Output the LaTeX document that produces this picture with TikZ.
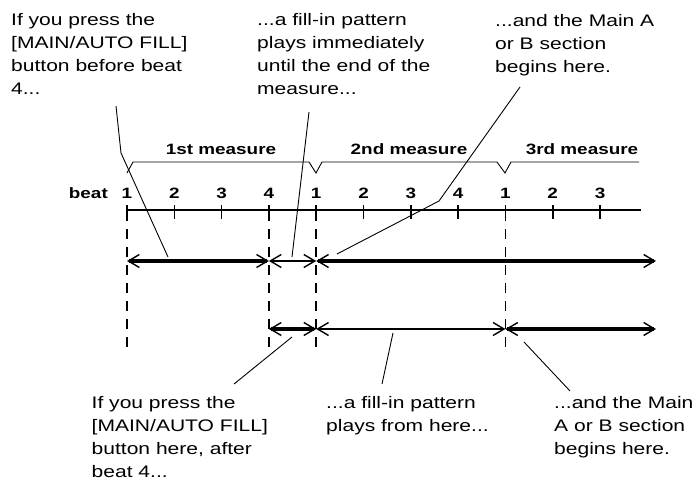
\documentclass[tikz,border=0pt]{standalone}
\usepackage{fontspec}
\setmainfont{Liberation Sans}[FakeStretch=1.26]
\usetikzlibrary{arrows.meta}
\tikzset{barb/.tip={Straight Barb[length=11pt,width=13pt,line width=1.4pt 0 0]}}

\begin{document}
\begin{tikzpicture}[x=1pt, y=-1pt,
  callout/.style={anchor=north west, inner sep=0pt, align=left, font=\fontsize{16.7}{23}\selectfont},
  lbl/.style={anchor=base, inner sep=0pt, font=\fontsize{15}{18}\selectfont\bfseries},
  leader/.style={line width=0.9pt, line join=miter},
  axisline/.style={line width=1.6pt},
  beatline/.style={line width=1.8pt, dash pattern=on 10pt off 8pt},
  thickspan/.style={line width=3.6pt, barb-barb},
  thinspan/.style={line width=1.5pt, barb-barb}
]
\useasboundingbox (0,0) rectangle (698,484);

\node[callout] (press) at (11,13.2) {If you press the\\{[MAIN/AUTO FILL]}\\button before beat\\4...};
\node[callout] (fillnow) at (257,13.2) {...a fill-in pattern\\plays immediately\\until the end of the\\measure...};
\node[callout] (mainab) at (495,13.7) {...and the Main A\\or B section\\begins here.};
\node[callout] (pressafter) at (91.5,395.7) {If you press the\\{[MAIN/AUTO FILL]}\\button here, after\\beat 4...};
\node[callout] (fillfrom) at (326,395.7) {...a fill-in pattern\\plays from here...};
\node[callout] (mainnext) at (554,395.7) {...and the Main\\A or B section\\begins here.};

\foreach \i in {0,...,10} \coordinate (b\i) at (127+47.3*\i,210);
\coordinate (axend) at (641,210);

\node[lbl, anchor=base east] (beat) at (108,198) {beat};
\foreach \i/\n in {0/1,1/2,2/3,3/4,4/1,5/2,6/3,7/4,8/1,9/2,10/3}
  \node[lbl] (n\i) at ([yshift=12pt]b\i) {\n};
\node[lbl] (m1) at (221,154) {1st measure};
\node[lbl] (m2) at (409,154) {2nd measure};
\node[lbl] (m3) at (582,154) {3rd measure};

\draw[leader] (127,173) -- (133,162) -- (309,162) -- (316,173) -- (322,162)
  -- (497,162) -- (505,173) -- (511,162) -- (639,162);

\draw[axisline] (b0) -- (axend);
\foreach \i in {0,...,10} \draw[axisline] ([yshift=5pt]b\i) -- ([yshift=-9pt]b\i);
\foreach \i in {0,3,4,8} \draw[beatline] ([yshift=-1pt]b\i) -- ([yshift=-137pt]b\i);

\foreach \i in {0,3,4,8} {
  \coordinate (u\i) at ([yshift=-51pt]b\i);
  \coordinate (v\i) at ([yshift=-119pt]b\i);
}
\coordinate (uend) at (656,261);
\coordinate (vend) at (656,329);

\draw[thickspan] (u0) -- (u3);
\draw[thinspan] (u3) -- (u4);
\draw[thickspan] (u4) -- (uend);
\draw[thickspan] (v3) -- (v4);
\draw[thinspan] (v4) -- (v8);
\draw[thickspan] (v8) -- (vend);

\coordinate (p1) at (116,106); \coordinate (q1) at (121,153); \coordinate (h1) at (168,257);
\coordinate (p2) at (309,112); \coordinate (h2) at (292,257);
\coordinate (p3) at (520,87); \coordinate (q3) at (439,201); \coordinate (h3) at (337,254);
\coordinate (h4) at (292,337); \coordinate (p4) at (234,384);
\coordinate (h5) at (393,333); \coordinate (p5) at (382,384);
\coordinate (h6) at (524,342); \coordinate (p6) at (570,391);

\draw[leader] (p1) -- (q1) -- (h1);
\draw[leader] (p2) -- (h2);
\draw[leader] (p3) -- (q3) -- (h3);
\draw[leader] (h4) -- (p4);
\draw[leader] (h5) -- (p5);
\draw[leader] (h6) -- (p6);
\end{tikzpicture}
\end{document}
